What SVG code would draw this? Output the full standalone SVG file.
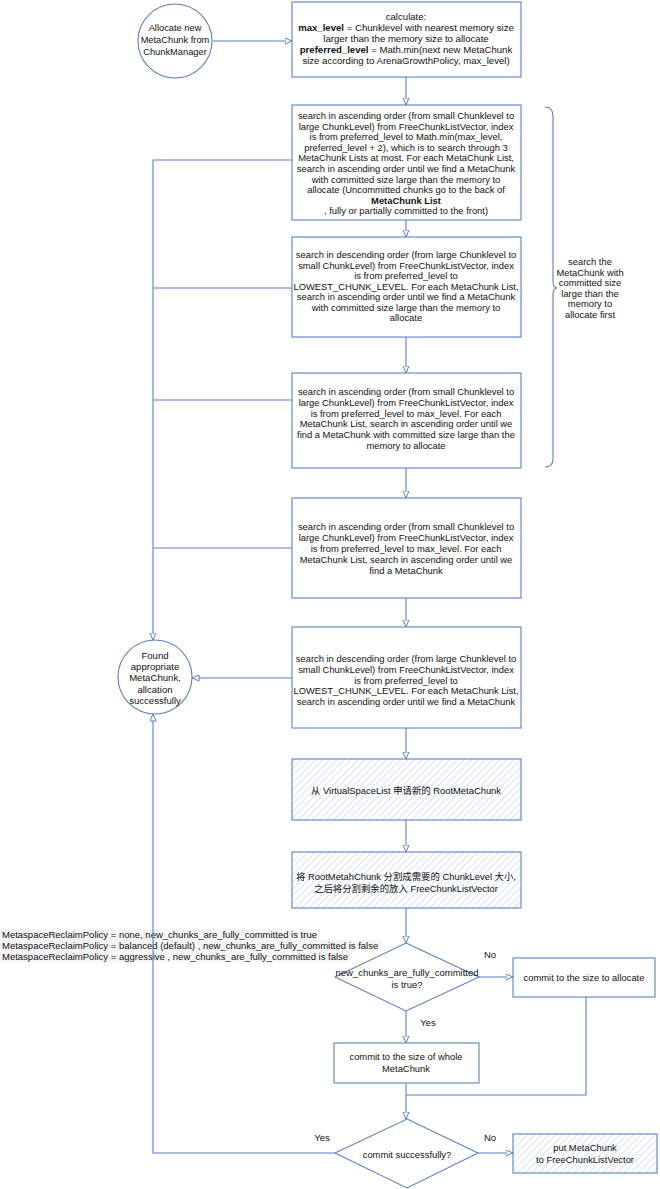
<svg xmlns="http://www.w3.org/2000/svg" width="660" height="1189" viewBox="0 0 660 1189">
<defs>
<style>
.n{fill:#fff;stroke:#5b80c8;stroke-width:1.1}
.h{fill:url(#hatch);stroke:#5b80c8;stroke-width:1.1}
.c{fill:none;stroke:#5b80c8;stroke-width:1.1}
.t{font-family:"Liberation Sans","Noto Sans CJK SC",sans-serif;font-size:9.4px;fill:#111;text-anchor:middle}
.l{font-family:"Liberation Sans","Noto Sans CJK SC",sans-serif;font-size:9.5px;fill:#111;text-anchor:start}
.b{font-weight:bold}
</style>
<pattern id="hatch" width="5" height="5" patternUnits="userSpaceOnUse" patternTransform="rotate(45)">
<rect width="5" height="5" fill="#fff"/>
<line x1="0" y1="0" x2="0" y2="5" stroke="#cfdcf3" stroke-width="1.6"/>
</pattern>
<marker id="a" markerWidth="9" markerHeight="8" refX="7.5" refY="3.5" orient="auto" markerUnits="userSpaceOnUse">
<path d="M0.5,0.5 L7.5,3.5 L0.5,6.5 Z" fill="#fff" stroke="#5b80c8" stroke-width="1"/>
</marker>
</defs>
<rect width="660" height="1189" fill="#fff"/>

<g id="policy">
<rect x="0" y="929" width="320" height="11" fill="#f5f5f5"/>
<rect x="0" y="940" width="383" height="11" fill="#f5f5f5"/>
<rect x="0" y="951" width="350" height="11" fill="#f5f5f5"/>
<text class="l" x="2" y="938">MetaspaceReclaimPolicy = none, new_chunks_are_fully_committed is true</text>
<text class="l" x="2" y="949">MetaspaceReclaimPolicy = balanced (default) , new_chunks_are_fully_committed is false</text>
<text class="l" x="2" y="960">MetaspaceReclaimPolicy = aggressive , new_chunks_are_fully_committed is false</text>
</g>

<g id="connectors">
<line class="c" x1="213" y1="41" x2="292" y2="41" marker-end="url(#a)"/>
<line class="c" x1="406" y1="77" x2="406" y2="105" marker-end="url(#a)"/>
<line class="c" x1="406" y1="220" x2="406" y2="237" marker-end="url(#a)"/>
<line class="c" x1="406" y1="337" x2="406" y2="373" marker-end="url(#a)"/>
<line class="c" x1="406" y1="468" x2="406" y2="498" marker-end="url(#a)"/>
<line class="c" x1="406" y1="598" x2="406" y2="627" marker-end="url(#a)"/>
<line class="c" x1="406" y1="728" x2="406" y2="759" marker-end="url(#a)"/>
<line class="c" x1="406" y1="820" x2="406" y2="852" marker-end="url(#a)"/>
<line class="c" x1="406" y1="908" x2="406" y2="943" marker-end="url(#a)"/>
<line class="c" x1="479" y1="977" x2="513" y2="977" marker-end="url(#a)"/>
<line class="c" x1="406" y1="1011" x2="406" y2="1043" marker-end="url(#a)"/>
<path class="c" d="M406,1083 L406,1119" marker-end="url(#a)"/>
<path class="c" d="M586,997 L586,1095 L406,1095"/>
<line class="c" x1="478" y1="1153" x2="513" y2="1153" marker-end="url(#a)"/>
<path class="c" d="M292,160 L153,160 L153,640" marker-end="url(#a)"/>
<line class="c" x1="292" y1="288" x2="153" y2="288"/>
<line class="c" x1="292" y1="400" x2="153" y2="400"/>
<line class="c" x1="292" y1="548" x2="153" y2="548"/>
<line class="c" x1="292" y1="678" x2="192" y2="678" marker-end="url(#a)"/>
<path class="c" d="M335,1153 L153,1153 L153,714" marker-end="url(#a)"/>
<path class="c" d="M545,107 Q553,107 553,116 L553,281 Q553,288 557,288 Q553,288 553,295 L553,459 Q553,467 545,467"/>
</g>

<g id="start">
<circle class="n" cx="175" cy="41" r="37"/>
<text class="t" style="font-size:9.3px" x="175" y="31">Allocate new<tspan x="175" dy="12">MetaChunk from</tspan><tspan x="175" dy="12">ChunkManager</tspan></text>
</g>

<g id="calc">
<rect class="n" x="292" y="2" width="229" height="75"/>
<text class="t" style="font-size:9.6px" x="406" y="20">calculate:<tspan x="406" dy="11"><tspan class="b">max_level</tspan> = Chunklevel with nearest memory size</tspan><tspan x="406" dy="11">larger than the memory size to allocate</tspan><tspan x="406" dy="11"><tspan class="b">preferred_level</tspan> = Math.min(next new MetaChunk</tspan><tspan x="406" dy="11">size according to ArenaGrowthPolicy, max_level)</tspan></text>
</g>

<g id="search1">
<rect class="n" x="292" y="105" width="229" height="115"/>
<text class="t" x="406" y="119">search in ascending order (from small Chunklevel to<tspan x="406" dy="10.6">large ChunkLevel) from FreeChunkListVector, index</tspan><tspan x="406" dy="10.6">is from preferred_level to  Math.min(max_level,</tspan><tspan x="406" dy="10.6">preferred_level + 2), which is to search through 3</tspan><tspan x="406" dy="10.6">MetaChunk Lists at most. For each MetaChunk List,</tspan><tspan x="406" dy="10.6">search in ascending order until we find a MetaChunk</tspan><tspan x="406" dy="10.6">with committed size large than the memory to</tspan><tspan x="406" dy="10.6">allocate (Uncommitted chunks go to the back of</tspan><tspan x="406" dy="10.6" class="b">MetaChunk List</tspan><tspan x="406" dy="10.6">, fully or partially committed to the front)</tspan></text>
</g>

<g id="search2">
<rect class="n" x="292" y="237" width="229" height="100"/>
<text class="t" x="406" y="258">search in descending order (from large Chunklevel to<tspan x="406" dy="10.5">small ChunkLevel) from FreeChunkListVector, index</tspan><tspan x="406" dy="10.5">is from preferred_level to</tspan><tspan x="406" dy="10.5">LOWEST_CHUNK_LEVEL. For each MetaChunk List,</tspan><tspan x="406" dy="10.5">search in ascending order until we find a MetaChunk</tspan><tspan x="406" dy="10.5">with committed size large than the memory to</tspan><tspan x="406" dy="10.5">allocate</tspan></text>
</g>

<g id="search3">
<rect class="n" x="292" y="373" width="229" height="95"/>
<text class="t" x="406" y="395">search in ascending order (from small Chunklevel to<tspan x="406" dy="10.8">large ChunkLevel) from FreeChunkListVector, index</tspan><tspan x="406" dy="10.8">is from preferred_level to max_level. For each</tspan><tspan x="406" dy="10.8">MetaChunk List, search in ascending order until we</tspan><tspan x="406" dy="10.8">find a MetaChunk with committed size large than the</tspan><tspan x="406" dy="10.8">memory to allocate</tspan></text>
</g>

<g id="brace-label">
<text class="t" x="590" y="265">search the<tspan x="590" dy="10.6">MetaChunk with</tspan><tspan x="590" dy="10.6">committed size</tspan><tspan x="590" dy="10.6">large than the</tspan><tspan x="590" dy="10.6">memory to</tspan><tspan x="590" dy="10.6">allocate first</tspan></text>
</g>

<g id="search4">
<rect class="n" x="292" y="498" width="229" height="100"/>
<text class="t" x="406" y="530">search in ascending order (from small Chunklevel to<tspan x="406" dy="11">large ChunkLevel) from FreeChunkListVector, index</tspan><tspan x="406" dy="11">is from preferred_level to max_level. For each</tspan><tspan x="406" dy="11">MetaChunk List, search in ascending order until we</tspan><tspan x="406" dy="11">find a MetaChunk</tspan></text>
</g>

<g id="search5">
<rect class="n" x="292" y="627" width="229" height="101"/>
<text class="t" x="406" y="662">search in descending order (from large Chunklevel to<tspan x="406" dy="10.8">small ChunkLevel) from FreeChunkListVector, index</tspan><tspan x="406" dy="10.8">is from preferred_level to</tspan><tspan x="406" dy="10.8">LOWEST_CHUNK_LEVEL. For each MetaChunk List,</tspan><tspan x="406" dy="10.8">search in ascending order until we find a MetaChunk</tspan></text>
</g>

<g id="found">
<circle class="n" cx="155" cy="677" r="37"/>
<text class="t" style="font-size:9.6px" x="155" y="659">Found<tspan x="155" dy="11.2">appropriate</tspan><tspan x="155" dy="11.2">MetaChunk,</tspan><tspan x="155" dy="11.2">allcation</tspan><tspan x="155" dy="11.2">successfully</tspan></text>
</g>

<g id="root">
<rect class="h" x="292" y="759" width="229" height="61"/>
<text class="t" x="406" y="794">从 VirtualSpaceList 申请新的 RootMetaChunk</text>
</g>

<g id="split">
<rect class="h" x="292" y="852" width="229" height="56"/>
<text class="t" x="406" y="880">将 RootMetahChunk 分割成需要的 ChunkLevel 大小,<tspan x="406" dy="12">之后将分割剩余的放入 FreeChunkListVector</tspan></text>
</g>

<g id="decision1">
<polygon class="n" points="406,943 479,977 406,1011 335,977"/>
<text class="t" style="font-size:9.5px" x="407" y="976">new_chunks_are_fully_committed<tspan x="407" dy="12">is true?</tspan></text>
<text class="t" style="font-size:9.5px" x="490" y="958">No</text>
<text class="t" style="font-size:9.5px" x="428" y="1026">Yes</text>
</g>

<g id="commitPart">
<rect class="n" x="513" y="958" width="142" height="39"/>
<text class="t" x="584" y="981">commit to the size to allocate</text>
</g>

<g id="commitWhole">
<rect class="n" x="334" y="1043" width="145" height="40"/>
<text class="t" x="406" y="1060">commit to the size of whole<tspan x="406" dy="12">MetaChunk</tspan></text>
</g>

<g id="decision2">
<polygon class="n" points="407,1119 478,1153 407,1188 335,1153"/>
<text class="t" x="407" y="1158">commit successfully?</text>
<text class="t" style="font-size:9.5px" x="322" y="1141">Yes</text>
<text class="t" style="font-size:9.5px" x="490" y="1141">No</text>
</g>

<g id="putBack">
<rect class="h" x="513" y="1134" width="144" height="39"/>
<text class="t" x="585" y="1151">put MetaChunk<tspan x="585" dy="12">to FreeChunkListVector</tspan></text>
</g>
</svg>
